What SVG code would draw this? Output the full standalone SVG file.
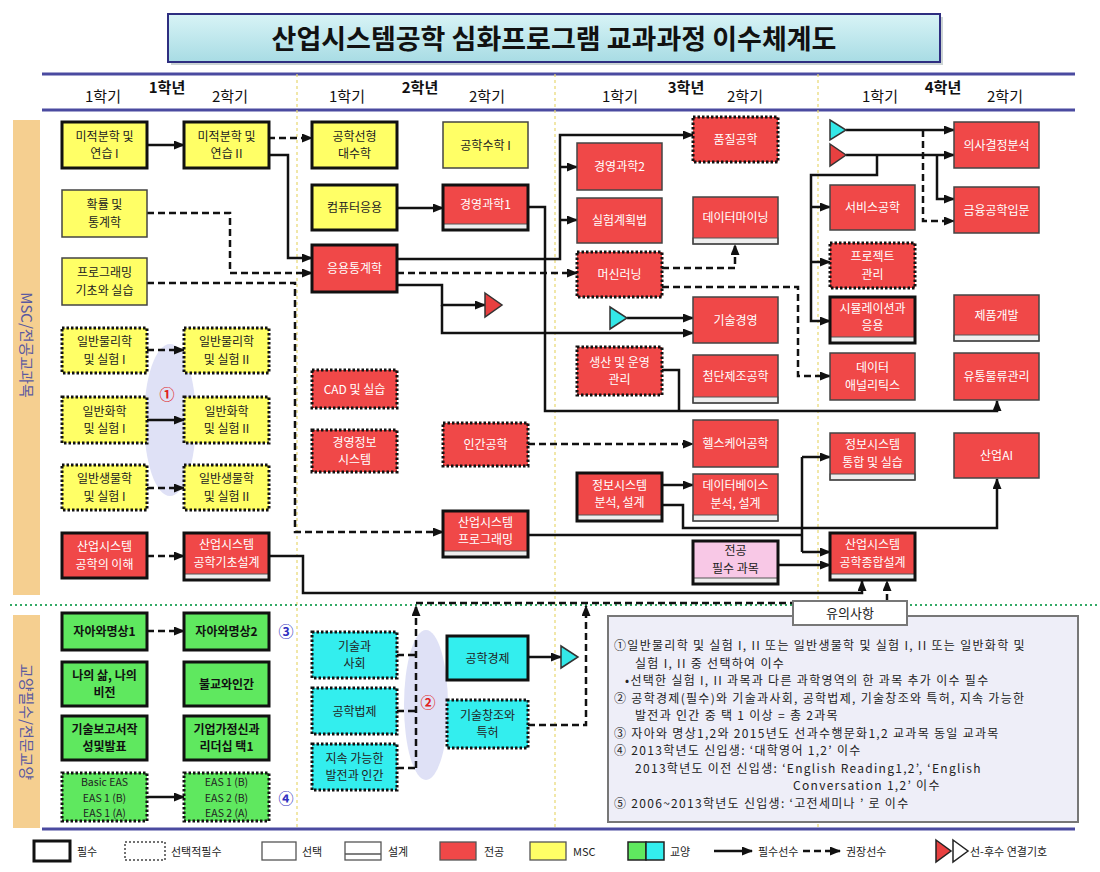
<svg xmlns="http://www.w3.org/2000/svg" width="1100" height="872" viewBox="0 0 1100 872">
<defs>
<linearGradient id="tg" x1="0" y1="0" x2="0" y2="1"><stop offset="0" stop-color="#d8f4f6"/><stop offset="1" stop-color="#a8dce4"/></linearGradient>
<marker id="ah" markerUnits="userSpaceOnUse" markerWidth="11" markerHeight="9" refX="10" refY="4.5" orient="auto"><path d="M0,0 L11,4.5 L0,9 z" fill="#111"/></marker>
<style>
text{font-family:"Noto Sans CJK KR","Noto Sans",sans-serif;font-size:12px;text-anchor:middle}
.r{fill:#f04848}.y{fill:#ffff66}.g{fill:#5fe85f}.c{fill:#33eeee}.p{fill:#f8c8e6}
.req{stroke:#111;stroke-width:3}
.opt{stroke:#444;stroke-width:1.5}
.sel{stroke:#111;stroke-width:3;stroke-dasharray:2.5 2}
.strip{fill:#eeeeee;stroke:#555;stroke-width:1}
.tw{fill:#fff}.tk{fill:#222}.tb{fill:#111;font-weight:bold}
.e{font-size:10.5px;fill:#222}
.s{fill:none;stroke:#111;stroke-width:2.5}
.d{fill:none;stroke:#111;stroke-width:2.5;stroke-dasharray:7 4}
.hd{font-size:15px;fill:#111}
.yr{font-size:15px;font-weight:bold;fill:#111}
.nav{stroke:#4a4aa0;stroke-width:3}
.vdiv{stroke:#e8d870;stroke-width:1.2;stroke-dasharray:3 3}
.note{font-size:12px;text-anchor:start;fill:#222;letter-spacing:1.3px}
.lg{font-size:11px;text-anchor:start;fill:#222}
.num{font-size:15px;font-weight:bold}
</style>
</defs>
<rect width="1100" height="872" fill="#fff"/>

<g id="title">
<rect x="171" y="17" width="772" height="48" fill="#9aa" opacity="0.5"/>
<rect x="168" y="14" width="772" height="48" fill="url(#tg)" stroke="#2e2e80" stroke-width="2"/>
<text x="554" y="49" style="font-size:27px;font-weight:bold;fill:#111">산업시스템공학 심화프로그램 교과과정 이수체계도</text>
</g>

<g id="frame">
<line class="nav" x1="42" y1="74" x2="1075" y2="74"/>
<line class="nav" x1="42" y1="110" x2="1075" y2="110"/>
<line class="nav" x1="42" y1="829" x2="1075" y2="829"/>
<line class="vdiv" x1="297" y1="74" x2="297" y2="829"/>
<line class="vdiv" x1="555" y1="74" x2="555" y2="829"/>
<line class="vdiv" x1="818" y1="74" x2="818" y2="829"/>
<line x1="10" y1="605" x2="1100" y2="605" stroke="#33aa66" stroke-width="2" stroke-dasharray="2 3"/>
<rect x="13" y="120" width="27" height="475" fill="#f5cf90"/>
<rect x="13" y="615" width="27" height="213" fill="#f5cf90"/>
<text transform="translate(21,345) rotate(90)" style="font-size:15px;fill:#5a5aa0">MSC/전공교과목</text>
<text transform="translate(21,722) rotate(90)" style="font-size:15px;fill:#5a5aa0">교양필수/전문교양</text>
</g>

<g id="header">
<text class="hd" x="103" y="102">1학기</text><text class="yr" x="167" y="93">1학년</text><text class="hd" x="230" y="102">2학기</text>
<text class="hd" x="347" y="102">1학기</text><text class="yr" x="420" y="93">2학년</text><text class="hd" x="487" y="102">2학기</text>
<text class="hd" x="620" y="102">1학기</text><text class="yr" x="686" y="93">3학년</text><text class="hd" x="745" y="102">2학기</text>
<text class="hd" x="880" y="102">1학기</text><text class="yr" x="943" y="93">4학년</text><text class="hd" x="1005" y="102">2학기</text>
</g>

<g id="groups">
<ellipse cx="170" cy="420" rx="26" ry="76" fill="#dfe1f6"/>
<text class="num" x="167" y="400" style="fill:#e02020">①</text>
<ellipse cx="426" cy="705" rx="22" ry="75" fill="#dfe1f6"/>
<text class="num" x="428" y="708" style="fill:#e02020">②</text>
<text class="num" x="286" y="637" style="fill:#3030c0">③</text>
<text class="num" x="286" y="804" style="fill:#3030c0">④</text>
</g>

<g id="connectors">
<path class="s" d="M147,145 H184" marker-end="url(#ah)"/>
<path class="d" d="M268,138 H312" marker-end="url(#ah)"/>
<path class="s" d="M268,155 H288 V258 H312" marker-end="url(#ah)"/>
<path class="d" d="M147,213 H230 V273 H312" marker-end="url(#ah)"/>
<path class="d" d="M147,283 H295 V532 H443" marker-end="url(#ah)"/>
<path class="s" d="M397,208 H443" marker-end="url(#ah)"/>
<path class="s" d="M397,259 H560 V135 H693" marker-end="url(#ah)"/>
<path class="s" d="M560,167 H577" marker-end="url(#ah)"/>
<path class="s" d="M560,220 H577" marker-end="url(#ah)"/>
<path class="d" d="M397,273 H577" marker-end="url(#ah)"/>
<path class="s" d="M397,285 H442 V305 H485" marker-end="url(#ah)"/>
<path class="s" d="M442,305 V333 H693" marker-end="url(#ah)"/>
<path class="s" d="M528,207 H545 V411 H997 V401" marker-end="url(#ah)"/>
<path class="s" d="M662,370 H679 V411"/>
<path class="d" d="M662,268 H735 V245" marker-end="url(#ah)"/>
<path class="d" d="M662,287 H798 V376 H830" marker-end="url(#ah)"/>
<path class="s" d="M627,318 H693" marker-end="url(#ah)"/>
<path class="d" d="M528,444 H693" marker-end="url(#ah)"/>
<path class="s" d="M662,485 H693" marker-end="url(#ah)"/>
<path class="s" d="M662,505 H683 V528 H997 V479" marker-end="url(#ah)"/>
<path class="s" d="M528,535 H802"/>
<path class="s" d="M802,457 V552"/>
<path class="s" d="M802,457 H830" marker-end="url(#ah)"/>
<path class="s" d="M802,552 H830" marker-end="url(#ah)"/>
<path class="s" d="M778,565 H830" marker-end="url(#ah)"/>
<path class="s" d="M846,130 H954" marker-end="url(#ah)"/>
<path class="s" d="M846,155 H954" marker-end="url(#ah)"/>
<path class="s" d="M937,155 V199 H954" marker-end="url(#ah)"/>
<path class="d" d="M923,130 V221 H954" marker-end="url(#ah)"/>
<path class="s" d="M877,155 V175 H811 V321 H830" marker-end="url(#ah)"/>
<path class="s" d="M811,207 H830" marker-end="url(#ah)"/>
<path class="s" d="M811,262 H830" marker-end="url(#ah)"/>
<path class="d" d="M147,350 H184" marker-end="url(#ah)"/>
<path class="s" d="M147,420 H184" marker-end="url(#ah)"/>
<path class="d" d="M147,488 H184" marker-end="url(#ah)"/>
<path class="d" d="M147,556 H184" marker-end="url(#ah)"/>
<path class="s" d="M268,556 H303 V593 H862 V581" marker-end="url(#ah)"/>
<path class="d" d="M147,631 H184" marker-end="url(#ah)"/>
<path class="s" d="M147,797 H184" marker-end="url(#ah)"/>
<path class="d" d="M397,655 H416 M397,711 H416 M397,768 H416"/>
<path class="d" d="M416,768 V606" marker-end="url(#ah)"/>
<path class="d" d="M528,725 H586 V606" marker-end="url(#ah)"/>
<path class="d" d="M416,603 H887 V581" marker-end="url(#ah)"/>
<path class="s" d="M528,657 H561" marker-end="url(#ah)"/>
<polygon points="485,293 502,305 485,317" fill="#e84040" stroke="#333" stroke-width="1.5"/>
<polygon points="610,307 627,318 610,329" fill="#33e8e8" stroke="#333" stroke-width="1.5"/>
<polygon points="830,120 846,130 830,140" fill="#33e8e8" stroke="#333" stroke-width="1.5"/>
<polygon points="830,144 846,155 830,166" fill="#e84040" stroke="#333" stroke-width="1.5"/>
<polygon points="561,646 578,657 561,668" fill="#33e8e8" stroke="#333" stroke-width="1.5"/>
</g>

<g id="n-calc1"><rect class="y req" x="62" y="122" width="85" height="46"/><text class="tk" x="104.5" y="140.5">미적분학 및</text><text class="tk" x="104.5" y="158">연습 I</text></g>
<g id="n-prob"><rect class="y opt" x="62" y="190" width="85" height="47"/><text class="tk" x="104.5" y="209">확률 및</text><text class="tk" x="104.5" y="226.5">통계학</text></g>
<g id="n-prog"><rect class="y opt" x="62" y="258" width="85" height="47"/><text class="tk" x="104.5" y="277">프로그래밍</text><text class="tk" x="104.5" y="294.5">기초와 실습</text></g>
<g id="n-phy1"><rect class="y sel" x="62" y="328" width="85" height="45"/><text class="tk" x="104.5" y="346">일반물리학</text><text class="tk" x="104.5" y="363.5">및 실험 I</text></g>
<g id="n-chem1"><rect class="y sel" x="62" y="397" width="85" height="46"/><text class="tk" x="104.5" y="415.5">일반화학</text><text class="tk" x="104.5" y="433">및 실험 I</text></g>
<g id="n-bio1"><rect class="y sel" x="62" y="465" width="85" height="45"/><text class="tk" x="104.5" y="483">일반생물학</text><text class="tk" x="104.5" y="500.5">및 실험 I</text></g>
<g id="n-intro"><rect class="r req" x="62" y="533" width="85" height="45"/><text class="tw" x="104.5" y="551">산업시스템</text><text class="tw" x="104.5" y="568.5">공학의 이해</text></g>

<g id="n-calc2"><rect class="y req" x="184" y="122" width="85" height="46"/><text class="tk" x="226.5" y="140.5">미적분학 및</text><text class="tk" x="226.5" y="158">연습 II</text></g>
<g id="n-phy2"><rect class="y sel" x="184" y="328" width="85" height="45"/><text class="tk" x="226.5" y="346">일반물리학</text><text class="tk" x="226.5" y="363.5">및 실험 II</text></g>
<g id="n-chem2"><rect class="y sel" x="184" y="397" width="85" height="46"/><text class="tk" x="226.5" y="415.5">일반화학</text><text class="tk" x="226.5" y="433">및 실험 II</text></g>
<g id="n-bio2"><rect class="y sel" x="184" y="465" width="85" height="45"/><text class="tk" x="226.5" y="483">일반생물학</text><text class="tk" x="226.5" y="500.5">및 실험 II</text></g>
<g id="n-basicdesign"><rect class="r" x="184" y="533" width="85" height="47"/><rect class="strip" x="184" y="574" width="85" height="6"/><rect class="req" fill="none" x="184" y="533" width="85" height="47"/><text class="tw" x="226.5" y="549">산업시스템</text><text class="tw" x="226.5" y="566.5">공학기초설계</text></g>

<g id="n-linalg"><rect class="y req" x="312" y="122" width="85" height="46"/><text class="tk" x="354.5" y="140.5">공학선형</text><text class="tk" x="354.5" y="158">대수학</text></g>
<g id="n-comp"><rect class="y req" x="312" y="185" width="85" height="45"/><text class="tk" x="354.5" y="212">컴퓨터응용</text></g>
<g id="n-appstat"><rect class="r req" x="312" y="245" width="85" height="47"/><text class="tw" x="354.5" y="273">응용통계학</text></g>
<g id="n-cad"><rect class="r sel" x="312" y="370" width="85" height="38"/><text class="tw" x="354.5" y="393.5">CAD 및 실습</text></g>
<g id="n-mis"><rect class="r sel" x="312" y="430" width="85" height="42"/><text class="tw" x="354.5" y="446.5">경영정보</text><text class="tw" x="354.5" y="464">시스템</text></g>

<g id="n-engmath"><rect class="y opt" x="443" y="122" width="85" height="46"/><text class="tk" x="485.5" y="149.5">공학수학 I</text></g>
<g id="n-or1"><rect class="r" x="443" y="185" width="85" height="45"/><rect class="strip" x="443" y="224" width="85" height="6"/><rect class="req" fill="none" x="443" y="185" width="85" height="45"/><text class="tw" x="485.5" y="209">경영과학1</text></g>
<g id="n-human"><rect class="r sel" x="443" y="423" width="85" height="43"/><text class="tw" x="485.5" y="449">인간공학</text></g>
<g id="n-sysprog"><rect class="r" x="443" y="511" width="85" height="46"/><rect class="strip" x="443" y="551" width="85" height="6"/><rect class="req" fill="none" x="443" y="511" width="85" height="46"/><text class="tw" x="485.5" y="526.5">산업시스템</text><text class="tw" x="485.5" y="544">프로그래밍</text></g>

<g id="n-or2"><rect class="r opt" x="577" y="143" width="85" height="47"/><text class="tw" x="619.5" y="171">경영과학2</text></g>
<g id="n-doe"><rect class="r opt" x="577" y="198" width="85" height="45"/><text class="tw" x="619.5" y="225">실험계획법</text></g>
<g id="n-ml"><rect class="r sel" x="577" y="252" width="85" height="45"/><text class="tw" x="619.5" y="279">머신러닝</text></g>
<g id="n-pom"><rect class="r sel" x="577" y="347" width="85" height="48"/><text class="tw" x="619.5" y="366.5">생산 및 운영</text><text class="tw" x="619.5" y="384">관리</text></g>
<g id="n-isad"><rect class="r" x="577" y="473" width="85" height="48"/><rect class="strip" x="577" y="515" width="85" height="6"/><rect class="req" fill="none" x="577" y="473" width="85" height="48"/><text class="tw" x="619.5" y="489.5">정보시스템</text><text class="tw" x="619.5" y="507">분석, 설계</text></g>

<g id="n-quality"><rect class="r sel" x="693" y="117" width="85" height="45"/><text class="tw" x="735.5" y="144">품질공학</text></g>
<g id="n-dm"><rect class="r" x="693" y="197" width="85" height="47"/><rect class="strip" x="693" y="238" width="85" height="6"/><rect class="opt" fill="none" x="693" y="197" width="85" height="47"/><text class="tw" x="735.5" y="222">데이터마이닝</text></g>
<g id="n-tm"><rect class="r opt" x="693" y="297" width="85" height="46"/><text class="tw" x="735.5" y="324.5">기술경영</text></g>
<g id="n-adv"><rect class="r" x="693" y="355" width="85" height="48"/><rect class="strip" x="693" y="397" width="85" height="6"/><rect class="opt" fill="none" x="693" y="355" width="85" height="48"/><text class="tw" x="735.5" y="380.5">첨단제조공학</text></g>
<g id="n-health"><rect class="r opt" x="693" y="420" width="85" height="47"/><text class="tw" x="735.5" y="448">헬스케어공학</text></g>
<g id="n-db"><rect class="r" x="693" y="474" width="85" height="47"/><rect class="strip" x="693" y="515" width="85" height="6"/><rect class="opt" fill="none" x="693" y="474" width="85" height="47"/><text class="tw" x="735.5" y="490">데이터베이스</text><text class="tw" x="735.5" y="507.5">분석, 설계</text></g>
<g id="n-majreq"><rect class="p" x="693" y="541" width="85" height="43"/><rect class="strip" x="693" y="578" width="85" height="6"/><rect class="req" fill="none" x="693" y="541" width="85" height="43"/><text class="tk" x="735.5" y="555">전공</text><text class="tk" x="735.5" y="572.5">필수 과목</text></g>

<g id="n-service"><rect class="r opt" x="830" y="185" width="85" height="45"/><text class="tw" x="872.5" y="212">서비스공학</text></g>
<g id="n-pm"><rect class="r sel" x="830" y="243" width="85" height="45"/><text class="tw" x="872.5" y="261">프로젝트</text><text class="tw" x="872.5" y="278.5">관리</text></g>
<g id="n-sim"><rect class="r" x="830" y="297" width="85" height="46"/><rect class="strip" x="830" y="337" width="85" height="6"/><rect class="req" fill="none" x="830" y="297" width="85" height="46"/><text class="tw" x="872.5" y="312.5">시뮬레이션과</text><text class="tw" x="872.5" y="330">응용</text></g>
<g id="n-da"><rect class="r opt" x="830" y="353" width="85" height="47"/><text class="tw" x="872.5" y="372">데이터</text><text class="tw" x="872.5" y="389.5">애널리틱스</text></g>
<g id="n-isint"><rect class="r" x="830" y="433" width="85" height="47"/><rect class="strip" x="830" y="474" width="85" height="6"/><rect class="opt" fill="none" x="830" y="433" width="85" height="47"/><text class="tw" x="872.5" y="449">정보시스템</text><text class="tw" x="872.5" y="466.5">통합 및 실습</text></g>
<g id="n-capstone"><rect class="r" x="830" y="533" width="85" height="47"/><rect class="strip" x="830" y="574" width="85" height="6"/><rect class="req" fill="none" x="830" y="533" width="85" height="47"/><text class="tw" x="872.5" y="549">산업시스템</text><text class="tw" x="872.5" y="566.5">공학종합설계</text></g>

<g id="n-decision"><rect class="r opt" x="954" y="122" width="85" height="46"/><text class="tw" x="996.5" y="149.5">의사결정분석</text></g>
<g id="n-fin"><rect class="r opt" x="954" y="187" width="85" height="46"/><text class="tw" x="996.5" y="214.5">금융공학입문</text></g>
<g id="n-pd"><rect class="r" x="954" y="295" width="85" height="46"/><rect class="strip" x="954" y="335" width="85" height="6"/><rect class="opt" fill="none" x="954" y="295" width="85" height="46"/><text class="tw" x="996.5" y="319.5">제품개발</text></g>
<g id="n-scm"><rect class="r opt" x="954" y="353" width="85" height="47"/><text class="tw" x="996.5" y="381">유통물류관리</text></g>
<g id="n-ai"><rect class="r opt" x="954" y="433" width="85" height="45"/><text class="tw" x="996.5" y="460">산업AI</text></g>

<g id="n-self1"><rect class="g req" x="62" y="613" width="85" height="37"/><text class="tb" x="104.5" y="636">자아와명상1</text></g>
<g id="n-self2"><rect class="g req" x="184" y="613" width="85" height="37"/><text class="tb" x="226.5" y="636">자아와명상2</text></g>
<g id="n-life"><rect class="g req" x="62" y="662" width="85" height="44"/><text class="tb" x="104.5" y="679.5">나의 삶, 나의</text><text class="tb" x="104.5" y="697">비전</text></g>
<g id="n-buddh"><rect class="g req" x="184" y="662" width="85" height="44"/><text class="tb" x="226.5" y="688.5">불교와인간</text></g>
<g id="n-report"><rect class="g req" x="62" y="716" width="85" height="44"/><text class="tb" x="104.5" y="733.5">기술보고서작</text><text class="tb" x="104.5" y="751">성및발표</text></g>
<g id="n-entre"><rect class="g req" x="184" y="716" width="85" height="44"/><text class="tb" x="226.5" y="733.5">기업가정신과</text><text class="tb" x="226.5" y="751">리더십 택1</text></g>
<g id="n-eas1"><rect class="g sel" x="62" y="773" width="85" height="48"/><text class="e" x="104.5" y="786">Basic EAS</text><text class="e" x="104.5" y="801.5">EAS 1 (B)</text><text class="e" x="104.5" y="817">EAS 1 (A)</text></g>
<g id="n-eas2"><rect class="g sel" x="184" y="773" width="85" height="48"/><text class="e" x="226.5" y="786">EAS 1 (B)</text><text class="e" x="226.5" y="801.5">EAS 2 (B)</text><text class="e" x="226.5" y="817">EAS 2 (A)</text></g>
<g id="n-techsoc"><rect class="c sel" x="312" y="632" width="85" height="46"/><text class="tk" x="354.5" y="650.5">기술과</text><text class="tk" x="354.5" y="668">사회</text></g>
<g id="n-law"><rect class="c sel" x="312" y="688" width="85" height="46"/><text class="tk" x="354.5" y="715.5">공학법제</text></g>
<g id="n-sustain"><rect class="c sel" x="312" y="744" width="85" height="46"/><text class="tk" x="354.5" y="762.5">지속 가능한</text><text class="tk" x="354.5" y="780">발전과 인간</text></g>
<g id="n-econ"><rect class="c req" x="447" y="636" width="81" height="44"/><text class="tk" x="487.5" y="662.5">공학경제</text></g>
<g id="n-patent"><rect class="c sel" x="447" y="700" width="81" height="48"/><text class="tk" x="487.5" y="719.5">기술창조와</text><text class="tk" x="487.5" y="737">특허</text></g>

<g id="notes">
<rect x="608" y="616" width="470" height="206" fill="#eeeef8" stroke="#777" stroke-width="2"/>
<rect x="793" y="601" width="114" height="24" fill="#fff" stroke="#777" stroke-width="2"/>
<text x="850" y="618" style="font-size:13px;fill:#222">유의사항</text>
<text class="note" x="614" y="650">①일반물리학 및 실험 I, II 또는 일반생물학 및 실험 I, II 또는 일반화학 및</text>
<text class="note" x="635" y="667.5">실험 I, II 중 선택하여 이수</text>
<text class="note" x="625" y="685">•선택한 실험 I, II 과목과 다른 과학영역의 한 과목 추가 이수 필수</text>
<text class="note" x="614" y="702.5">② 공학경제(필수)와 기술과사회, 공학법제, 기술창조와 특허, 지속 가능한</text>
<text class="note" x="635" y="720">발전과 인간 중 택 1 이상 = 총 2과목</text>
<text class="note" x="614" y="737.5">③ 자아와 명상1,2와 2015년도 선과수행문화1,2 교과목 동일 교과목</text>
<text class="note" x="614" y="755">④ 2013학년도 신입생: ‘대학영어 1,2’ 이수</text>
<text class="note" x="635" y="772.5">2013학년도 이전 신입생: ‘English Reading1,2’, ‘English</text>
<text class="note" x="793" y="790">Conversation 1,2’ 이수</text>
<text class="note" x="614" y="807.5">⑤ 2006~2013학년도 신입생: ‘고전세미나 ’ 로 이수</text>
</g>

<g id="legend">
<rect x="34" y="841" width="36" height="20" fill="#fff" stroke="#111" stroke-width="3"/><text class="lg" x="77" y="856">필수</text>
<rect x="125" y="842" width="40" height="18" fill="#fff" stroke="#444" stroke-width="1.5" stroke-dasharray="2 2"/><text class="lg" x="171" y="856">선택적필수</text>
<rect x="262" y="842" width="34" height="18" fill="#fff" stroke="#555" stroke-width="1.3"/><text class="lg" x="302" y="856">선택</text>
<rect x="345" y="842" width="36" height="18" fill="#fff" stroke="#555" stroke-width="1.3"/><line x1="345" y1="854" x2="381" y2="854" stroke="#555" stroke-width="1.3"/><text class="lg" x="388" y="856">설계</text>
<rect x="440" y="842" width="36" height="18" fill="#f04848" stroke="#555" stroke-width="1.3"/><text class="lg" x="484" y="856">전공</text>
<rect x="530" y="842" width="36" height="18" fill="#ffff66" stroke="#555" stroke-width="1.3"/><text class="lg" x="573" y="856">MSC</text>
<rect x="628" y="842" width="18" height="18" fill="#5fe85f" stroke="#222" stroke-width="1.5"/><rect x="646" y="842" width="18" height="18" fill="#33eeee" stroke="#222" stroke-width="1.5"/><text class="lg" x="670" y="856">교양</text>
<path class="s" d="M714,851 H752" marker-end="url(#ah)"/><text class="lg" x="758" y="856">필수선수</text>
<path class="d" d="M803,851 H840" marker-end="url(#ah)"/><text class="lg" x="846" y="856">권장선수</text>
<polygon points="936,840 951,851 936,862" fill="#e84040" stroke="#222" stroke-width="1.5"/>
<polygon points="953,840 968,851 953,862" fill="#fff" stroke="#222" stroke-width="1.5"/>
<text class="lg" x="970" y="856">선-후수 연결기호</text>
</g>
</svg>
